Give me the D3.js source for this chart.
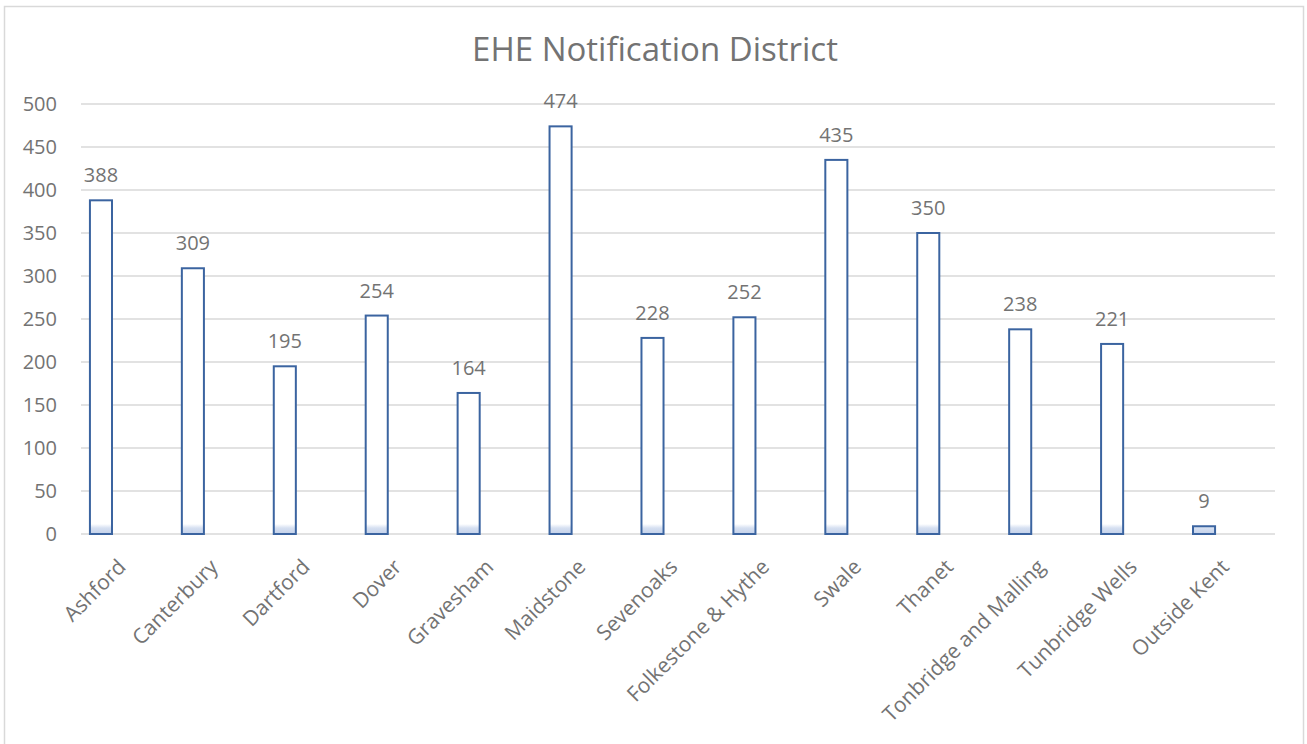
<!DOCTYPE html>
<html>
<head>
<meta charset="utf-8">
<script src="https://cdn.jsdelivr.net/npm/d3@7"></script>
<style>
    body { margin: 0; background: #fff; }
    svg text { font-family: "Open Sans", "Noto Sans", sans-serif; fill: #737373; }
</style>
</head>
<body>
<div id="chart"></div>
<script>
// EHE notifications per district
var districts = ['Ashford', 'Canterbury', 'Dartford', 'Dover', 'Gravesham', 'Maidstone', 'Sevenoaks',
    'Folkestone & Hythe', 'Swale', 'Thanet', 'Tonbridge and Malling', 'Tunbridge Wells', 'Outside Kent'];
var notifications = [388, 309, 195, 254, 164, 474, 228, 252, 435, 350, 238, 221, 9];
var yTicks = [0, 50, 100, 150, 200, 250, 300, 350, 400, 450, 500];

var width = 1307;
var height = 744;
var margin = { top: 104, right: 32, bottom: 210, left: 81 };

var svg = d3.select('#chart')
    .append('svg')
    .attr('width', width)
    .attr('height', height);

// outer chart border
svg.append('rect')
    .attr('x', 4.5)
    .attr('y', 6.5)
    .attr('width', 1299)
    .attr('height', 745)
    .attr('fill', 'none')
    .attr('stroke', '#d9d9d9')
    .attr('stroke-width', 1.5);

// bars sit a bit left of the gridline span in the original
var x = d3.scaleBand()
    .domain(districts)
    .range([55, 1250])
    .paddingInner(0.76)
    .paddingOuter(0.38);

var y = d3.scaleLinear()
    .domain([0, 500])
    .range([height - margin.bottom, margin.top]);

// light fill near the baseline (only visible on short bars)
var grad = svg.append('defs').append('linearGradient')
    .attr('id', 'barFill')
    .attr('gradientUnits', 'userSpaceOnUse')
    .attr('x1', 0).attr('x2', 0)
    .attr('y1', y(0)).attr('y2', y(0) - 10);
grad.append('stop').attr('offset', 0).attr('stop-color', '#c3d1ea');
grad.append('stop').attr('offset', 0.6).attr('stop-color', '#d6e0f1');
grad.append('stop').attr('offset', 1).attr('stop-color', '#ffffff');

// gridlines
svg.append('g')
    .selectAll('line')
    .data(yTicks)
    .enter()
    .append('line')
    .attr('x1', margin.left)
    .attr('x2', width - margin.right)
    .attr('y1', function(d) { return y(d); })
    .attr('y2', function(d) { return y(d); })
    .attr('stroke', '#d9d9d9')
    .attr('stroke-width', 1.5);

// y axis labels
var yAxis = d3.axisLeft(y).tickValues(yTicks).tickSize(0).tickPadding(0);
svg.append('g')
    .attr('transform', 'translate(57,0)')
    .call(yAxis)
    .call(function(g) { g.select('.domain').remove(); })
    .selectAll('text')
    .style('font-size', '20px')
    .attr('fill', '#737373');

// bars
svg.append('g')
    .selectAll('rect')
    .data(notifications)
    .enter()
    .append('rect')
    .attr('x', function(d, i) { return x(districts[i]); })
    .attr('y', function(d) { return y(d); })
    .attr('width', x.bandwidth())
    .attr('height', function(d) { return y(0) - y(d); })
    .attr('fill', 'url(#barFill)')
    .attr('stroke', '#3b64a0')
    .attr('stroke-width', 2);

// value labels
svg.append('g')
    .selectAll('text')
    .data(notifications)
    .enter()
    .append('text')
    .attr('x', function(d, i) { return x(districts[i]) + x.bandwidth() / 2; })
    .attr('y', function(d) { return y(d) - 18; })
    .attr('text-anchor', 'middle')
    .style('font-size', '20px')
    .text(function(d) { return d; });

// x axis labels, rotated
var xAxis = d3.axisBottom(x).tickSize(0).tickPadding(0);
svg.append('g')
    .attr('transform', 'translate(0,' + (y(0) + 29) + ')')
    .call(xAxis)
    .call(function(g) { g.select('.domain').remove(); })
    .selectAll('text')
    .style('font-size', '21px')
    .attr('fill', '#737373')
    .attr('dy', '0.35em')
    .attr('text-anchor', 'end')
    .attr('transform', 'translate(21,0) rotate(-45)');

// title
svg.append('text')
    .attr('x', 655)
    .attr('y', 61)
    .attr('text-anchor', 'middle')
    .style('font-size', '33px')
    .text('EHE Notification District');
</script>
</body>
</html>
